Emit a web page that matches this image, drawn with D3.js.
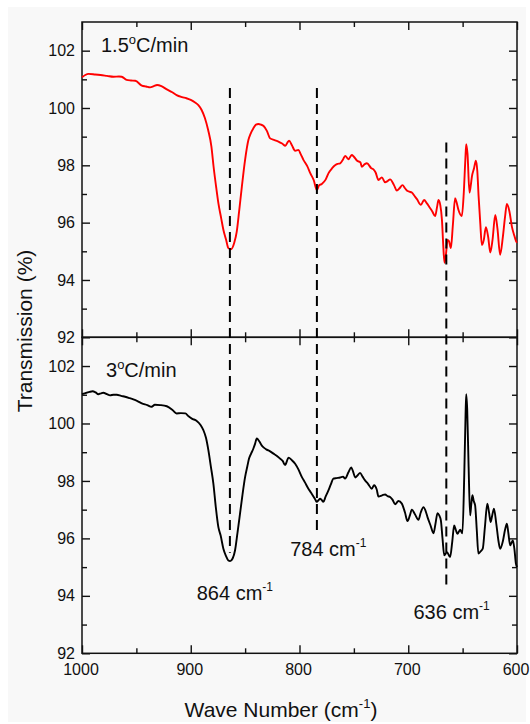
<!DOCTYPE html>
<html>
<head>
<meta charset="utf-8">
<script src="https://cdn.jsdelivr.net/npm/d3@7"></script>
<style>
  html, body { margin: 0; padding: 0; background: #ffffff; }
  svg { display: block; }
  text { font-family: "Liberation Sans", Arial, sans-serif; fill: #111; }
</style>
</head>
<body>
<svg id="chart" width="530" height="724"></svg>
<script>
// FTIR transmission spectra for two heating rates (wavenumber in cm^-1, transmission in %)
const rate15Wave = [1000,997,994,988,983,977,971,966,963.5,959,955,951,945,941,937.4,934,931,927,922,917,913,908,904,900,896,893,890,887,884,881,879,876.5,874.6,872,870,867.5,865.4,863,860,857.7,855.5,853,850,847,845,842.4,840,837.8,835.5,833,830,827,823,819.4,816,813,811,809.6,807,804,801,799,796.4,793,790,787,784,782,779.5,776,773.4,770,767,765,762.6,760,758,755,752,750,747,744,742.7,740,738,734,732,730,727.4,724.3,721.3,719,716.7,713,710.5,708,705.3,703,701.3,699,696.7,694,692,688.4,685.4,683,680.5,678,675.3,673.5,672.2,670.5,669,667.8,666.7,665.3,663.9,662.5,660.8,659,656.9,655.5,653.8,650.7,649,647.5,646.7,645.5,643.7,642.5,641.5,639.5,637.8,636.5,635.3,633.8,632.3,630.5,628.6,626.5,624.6,622.5,620,618,615.5,613,611,609.3,607,604.7,602.5,600.7,600];
const rate15Trans = [101.07,101.15,101.19,101.17,101.15,101.12,101.09,101.10,101.09,100.98,100.96,100.95,100.78,100.75,100.72,100.76,100.80,100.76,100.65,100.55,100.45,100.38,100.34,100.28,100.19,100.10,99.93,99.65,99.23,98.65,97.95,97.2,96.68,96.15,95.75,95.4,95.11,95.07,95.3,95.69,96.4,97.26,98.2,98.88,99.1,99.29,99.42,99.44,99.42,99.37,99.2,98.94,98.88,98.83,98.76,98.68,98.8,98.86,98.7,98.51,98.54,98.4,98.19,97.98,97.72,97.49,97.14,97.3,97.35,97.5,97.72,97.9,98.01,98.05,98.07,98.2,98.33,98.21,98.36,98.3,98.16,98.1,97.95,98.04,98.07,97.9,97.86,97.75,97.49,97.58,97.41,97.45,97.51,97.3,97.12,97.2,97.31,97.2,97.12,97.08,97.05,96.92,96.82,96.62,96.79,96.68,96.54,96.4,96.23,96.55,96.79,96.6,96.09,95.2,94.6,94.9,95.4,95.35,95.11,95.9,96.85,96.7,96.44,96.23,97.0,98.2,98.74,98.4,97.05,97.3,97.6,97.9,98.16,97.8,96.91,96.0,95.22,95.4,95.84,95.5,94.96,95.4,96.27,95.8,94.88,95.5,96.2,96.65,96.4,95.86,95.55,95.34,95.3];

const rate3Wave = [1000,997.5,995.7,993,990.2,987.5,985,982.5,980.4,977,974.2,971,968,964,960.4,956,952.8,949,945,940,936,933,928,922,917,913,909,905,902,899,894.5,891,888.4,886,883.8,881.5,879.2,877,874.6,872.5,870,867.5,865.4,863.8,861.5,859.3,857,854.7,852.5,850,848,846.4,844.5,842.4,840.8,839.3,837,834.8,832.5,830.2,827,824,821,818,815.5,813.2,811.5,810.2,807,804,801,797.9,795,791.8,789.5,787.2,785.5,784.1,782.5,781.1,779.5,778.1,776,773.4,771,768.9,766,762.6,760,758.1,755,752.5,750.5,748.8,746.5,744.3,742,739.7,737,733.5,731.4,729,727.4,724,721.3,719,716.7,714.5,712.1,709,705.9,703,700.7,698.5,696.7,694,690.6,688.5,686,684,682.3,679.5,676.8,675,673.1,671.5,670,668.5,666.9,664.4,661.5,659.5,657.8,656.3,654.8,652.3,650.2,648.5,647.3,646.7,645.8,644.5,643.1,642,641,639.8,638.5,637,635.5,633.5,631.5,629.5,627.3,625.7,624.2,622.8,621.2,619,617,615.5,613,611,609.3,608,606.3,603.8,602.3,601,600];
const rate3Trans = [101.02,101.05,101.07,101.1,101.12,101.08,101.02,101.05,101.07,101.02,100.98,101.0,101.0,100.96,100.93,100.88,100.84,100.78,100.7,100.64,100.58,100.65,100.64,100.6,100.48,100.35,100.36,100.35,100.25,100.17,100.09,99.95,99.77,99.5,99.07,98.5,97.91,97.1,96.39,96.1,95.64,95.38,95.23,95.21,95.3,95.58,96.2,96.86,97.5,98.14,98.5,98.78,98.95,99.13,99.3,99.48,99.38,99.24,99.15,99.09,99.03,98.95,98.88,98.78,98.7,98.55,98.7,98.81,98.72,98.6,98.4,98.14,97.95,97.73,97.6,97.46,97.35,97.27,97.33,97.38,97.33,97.27,97.45,97.67,97.9,98.08,98.1,98.12,98.15,98.08,98.3,98.47,98.3,98.12,98.2,98.28,98.15,98.02,97.9,97.73,97.85,97.7,97.46,97.5,97.53,97.47,97.44,97.35,97.19,97.3,97.21,96.9,96.6,96.8,97.0,96.85,96.65,96.9,97.09,96.95,96.74,96.45,96.18,96.5,96.88,96.8,96.63,96.0,95.41,95.52,95.35,95.9,96.45,96.3,96.16,96.3,96.18,98.2,100.3,101.02,100.5,98.5,96.8,97.2,97.5,97.3,97.15,96.3,95.47,95.55,95.64,96.4,97.21,96.9,96.57,96.8,97.03,96.5,95.9,95.64,95.9,96.3,96.51,96.2,95.76,95.93,95.6,95.12,95.0];

// Axis ticks
const waveMajorTicks = [1000, 900, 800, 700, 600];
const waveMinorTicks = [950, 850, 750, 650];
const transMajorTicks = [92, 94, 96, 98, 100, 102];
const transMinorTicks = [93, 95, 97, 99, 101];

// Band markers: wavenumber, start (upper panel) and end (lower panel) transmission
const bandWave = [864, 784, 665];
const bandTopStart = [100.7, 100.7, 98.8];
const bandBottomEnd = [95.5, 96.1, 94.3];
const bandLabels = ["864 cm", "784 cm", "636 cm"];
const bandLabelWave = [894.5, 808.6, 695.2];
const bandLabelTrans = [93.84, 95.37, 93.21];

const panelTitles = ["1.5", "3"];

const svg = d3.select("#chart");

// faint paper background of the figure
svg.append("rect").attr("x", 8).attr("y", 7).attr("width", 518).attr("height", 715)
  .attr("fill", "#f8f8f8");

const plotLeft = 82, plotRight = 517, plotTop = 22, plotMid = 337.3, plotBottom = 653.3;

const x = d3.scaleLinear().domain([1000, 600]).range([plotLeft, plotRight]);
const yTop = d3.scaleLinear().domain([92, 103]).range([plotMid, plotTop]);
const yBot = d3.scaleLinear().domain([92, 103]).range([plotBottom, plotMid]);

const majorLen = 8, minorLen = 5;

function yAxes(y) {
  const g = svg.append("g").attr("class", "y-axes");
  g.append("g").attr("transform", `translate(${plotLeft},0)`)
    .call(d3.axisLeft(y).tickValues(transMajorTicks).tickSizeInner(-majorLen).tickSizeOuter(0).tickPadding(7).tickFormat(d3.format("d")));
  g.append("g").attr("transform", `translate(${plotLeft},0)`)
    .call(d3.axisLeft(y).tickValues(transMinorTicks).tickSizeInner(-minorLen).tickSizeOuter(0).tickFormat(""));
  g.append("g").attr("transform", `translate(${plotRight},0)`)
    .call(d3.axisRight(y).tickValues(transMajorTicks).tickSizeInner(-majorLen).tickSizeOuter(0).tickFormat(""));
  g.append("g").attr("transform", `translate(${plotRight},0)`)
    .call(d3.axisRight(y).tickValues(transMinorTicks).tickSizeInner(-minorLen).tickSizeOuter(0).tickFormat(""));
  return g;
}

function xAxis(axisFn, yPos, labelled) {
  const g = svg.append("g");
  g.append("g").attr("transform", `translate(0,${yPos})`)
    .call(axisFn(x).tickValues(waveMajorTicks).tickSizeInner(-majorLen).tickSizeOuter(0).tickPadding(10)
      .tickFormat(labelled ? d3.format("d") : ""));
  g.append("g").attr("transform", `translate(0,${yPos})`)
    .call(axisFn(x).tickValues(waveMinorTicks).tickSizeInner(-minorLen).tickSizeOuter(0).tickFormat(""));
  return g;
}

const axes = [
  yAxes(yTop), yAxes(yBot),
  xAxis(d3.axisTop, plotTop, false),
  xAxis(d3.axisBottom, plotMid, false),
  xAxis(d3.axisTop, plotMid, false),
  xAxis(d3.axisBottom, plotBottom, true)
];
axes.forEach(g => {
  g.selectAll(".domain").remove();
  g.selectAll(".tick line").attr("stroke", "#111").attr("stroke-width", 1.4);
  g.selectAll(".tick text").attr("font-size", 16).attr("fill", "#111")
    .style("font-family", '"Liberation Sans", Arial, sans-serif');
});
// wave-number labels sit a touch left of their ticks
axes[5].selectAll(".tick text").attr("dx", -1.5);

// panel frames
svg.append("rect").attr("x", plotLeft).attr("y", plotTop).attr("width", plotRight - plotLeft).attr("height", plotMid - plotTop)
  .attr("fill", "none").attr("stroke", "#111").attr("stroke-width", 1.5);
svg.append("rect").attr("x", plotLeft).attr("y", plotMid).attr("width", plotRight - plotLeft).attr("height", plotBottom - plotMid)
  .attr("fill", "none").attr("stroke", "#111").attr("stroke-width", 1.5);

// spectra
function spectrum(waves, trans, y, color) {
  const line = d3.line().x(d => x(d[0])).y(d => y(d[1])).curve(d3.curveMonotoneX);
  svg.append("path").datum(d3.zip(waves, trans))
    .attr("d", line).attr("fill", "none").attr("stroke", color)
    .attr("stroke-width", 1.9).attr("stroke-linejoin", "round");
}
spectrum(rate15Wave, rate15Trans, yTop, "#ff0000");
spectrum(rate3Wave, rate3Trans, yBot, "#000000");

// dashed band markers spanning both panels
bandWave.forEach((w, i) => {
  svg.append("line")
    .attr("x1", x(w)).attr("x2", x(w))
    .attr("y1", yTop(bandTopStart[i])).attr("y2", yBot(bandBottomEnd[i]))
    .attr("stroke", "#000").attr("stroke-width", 2).attr("stroke-dasharray", "10,6");
});

// band labels with superscript -1
bandLabels.forEach((t, i) => {
  const txt = svg.append("text")
    .attr("x", x(bandLabelWave[i])).attr("y", yBot(bandLabelTrans[i]))
    .attr("font-size", 20);
  txt.append("tspan").text(t);
  txt.append("tspan").attr("font-size", 12).attr("dy", -9).text("-1");
});

// panel titles: heating rate with superscript o
function panelTitle(xPos, yPos, rate) {
  const txt = svg.append("text").attr("x", xPos).attr("y", yPos).attr("font-size", 20);
  txt.append("tspan").text(rate);
  txt.append("tspan").attr("font-size", 13).attr("dy", -8).text("o");
  txt.append("tspan").attr("dy", 8).text("C/min");
}
panelTitle(101, 52, panelTitles[0]);
panelTitle(106, 377, panelTitles[1]);

// axis titles
const xt = svg.append("text").attr("x", 281).attr("y", 717).attr("text-anchor", "middle").attr("font-size", 21);
xt.append("tspan").text("Wave Number (cm");
xt.append("tspan").attr("font-size", 13).attr("dy", -9).text("-1");
xt.append("tspan").attr("dy", 9).text(")");

svg.append("text")
  .attr("transform", `translate(32,331) rotate(-90)`)
  .attr("text-anchor", "middle").attr("font-size", 21)
  .text("Transmission (%)");
</script>
</body>
</html>
